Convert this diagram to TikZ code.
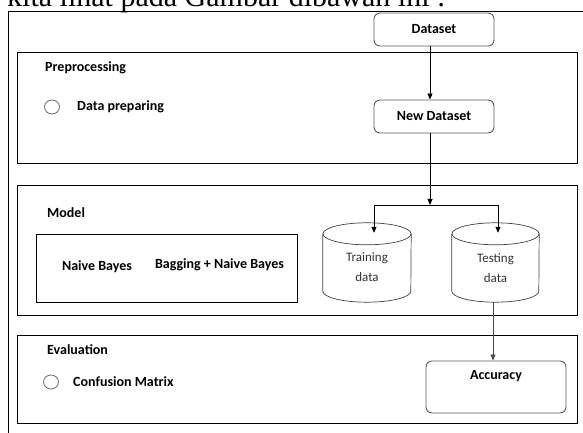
\documentclass[tikz,border=0pt]{standalone}
\usepackage{fontspec}
\setmainfont{Carlito}
\newfontfamily\serifx{Liberation Serif}
\usetikzlibrary{arrows.meta,shapes.geometric}
\begin{document}
\begin{tikzpicture}[x=1pt,y=1pt,
  frame/.style={draw=black, line width=0.9pt, inner sep=0pt, anchor=north west},
  rbox/.style={draw=black!65, line width=0.9pt, rounded corners=6pt, minimum width=120pt, minimum height=33pt, inner sep=0pt, font=\bfseries\fontsize{14}{16}\selectfont},
  lbl/.style={font=\bfseries\fontsize{14}{16}\selectfont, inner sep=0pt},
  cylbox/.style={minimum width=88pt, minimum height=79pt, inner sep=0pt},
  cyltext/.style={align=center, inner sep=0pt, font=\fontsize{13}{20}\selectfont, text=black!80},
  cylline/.style={draw=black!75, line width=0.7pt},
  arr/.style={-{Triangle[length=6pt,width=5pt]}, line width=0.8pt},
  bul/.style={ellipse, draw=black!60, line width=0.8pt, minimum width=15pt, minimum height=14pt, inner sep=0pt}
]
\useasboundingbox (0,0) rectangle (583,433);
\begin{scope}
\clip (0,0) rectangle (583,433);
\node[anchor=base west, inner sep=0pt, font=\serifx\fontsize{30}{30}\selectfont] (head) at (7,426.5) {kita lihat pada Gambar dibawah ini :};
\end{scope}
% outer frame
\coordinate (ftr) at (583,422);
\coordinate (ftl) at (8,422);
\coordinate (fbl) at (8,0);
\draw[line width=0.9pt] (ftr) -- (ftl) -- (fbl);
% sections
\node[frame, minimum width=560pt, minimum height=111pt] (pre) at (17,381) {};
\node[frame, minimum width=560pt, minimum height=130pt] (mod) at (17,248) {};
\node[frame, minimum width=261pt, minimum height=68pt] (inner) at (36,199) {};
\node[frame, minimum width=560pt, minimum height=88pt] (eva) at (17,98) {};
% labels
\node[lbl, anchor=west] (tpre) at (45,365) {Preprocessing};
\node[bul] (b1) at (52,326) {};
\node[lbl, anchor=west] (tdp) at (77,326) {Data preparing};
\node[lbl, anchor=west] (tmod) at (47,220) {Model};
\node[lbl] (tnb) at (97,166) {Naive Bayes};
\node[lbl] (tbnb) at (219.5,168) {Bagging + Naive Bayes};
\node[lbl, anchor=west] (teva) at (47,83) {Evaluation};
\node[bul] (b2) at (51,51) {};
\node[lbl, anchor=west] (tcm) at (73,51) {Confusion Matrix};
% flow boxes
\node[rbox] (ds) at (434,403.5) {Dataset};
\node[rbox] (nd) at (434,316.5) {New Dataset};
\node[rbox, minimum width=140pt, minimum height=52pt] (acc) at (496,46) {};
\node[lbl] (tacc) at ([yshift=-16pt]acc.north) {Accuracy};
% cylinders
\node[cylbox] (train) at (367,170.5) {};
\node[cylbox, minimum width=87pt] (test) at (495.5,170.5) {};
\draw[cylline] ([yshift=-11pt]train.north west) -- ([yshift=11pt]train.south west) arc[start angle=180,end angle=360,x radius=44pt,y radius=11pt] -- ([yshift=-11pt]train.north east);
\draw[cylline] ([yshift=-11pt]train.north) ellipse[x radius=44pt, y radius=11pt];
\draw[cylline] ([yshift=-11pt]test.north west) -- ([yshift=11pt]test.south west) arc[start angle=180,end angle=360,x radius=43.5pt,y radius=11pt] -- ([yshift=-11pt]test.north east);
\draw[cylline] ([yshift=-11pt]test.north) ellipse[x radius=43.5pt, y radius=11pt];
\node[cyltext] (ttrain) at ([yshift=-4.5pt]train.center) {Training\\data};
\node[cyltext] (ttest) at ([yshift=-5.5pt]test.center) {Testing\\data};
% connectors
\coordinate (jn) at (430,228);
\draw[arr] ([xshift=-4pt]ds.south) -- ([xshift=-4pt]nd.north);
\draw[arr] ([xshift=-4pt]nd.south) -- (jn);
\draw[arr] (jn) -| ([xshift=7pt,yshift=-10pt]train.north);
\draw[arr] (jn) -| ([xshift=2.5pt,yshift=-10pt]test.north);
\draw[arr, draw=black!70] ([xshift=-2.5pt]test.south) -- ([xshift=-3pt]acc.north);
\end{tikzpicture}
\end{document}
